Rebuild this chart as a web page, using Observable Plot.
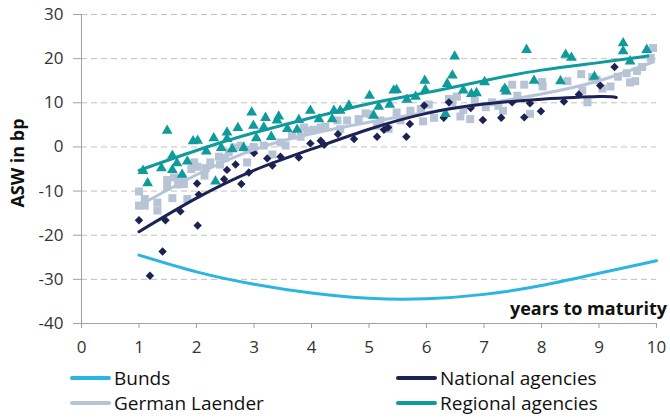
<!DOCTYPE html>
<html><head><meta charset="utf-8">
<script src="https://cdn.jsdelivr.net/npm/d3@7"></script>
<script src="https://cdn.jsdelivr.net/npm/@observablehq/plot@0.6"></script>
<style>
body{margin:0;background:#fff;font-family:"Open Sans",sans-serif;}
#wrap{position:relative;width:670px;height:419px;overflow:hidden;}
.leg{position:absolute;font-size:19px;color:#111;display:flex;align-items:center;white-space:nowrap;height:24px;}
.leg .sw{display:inline-block;width:41px;height:4px;margin-right:3px;border-radius:2px;}
</style></head><body><div id="wrap"></div>
<script>
const xTicks = [0,1,2,3,4,5,6,7,8,9,10];
const yTicks = [-40,-30,-20,-10,0,10,20,30];

const laenderX = [1.0,1.1,1.0,1.1,1.32,1.32,1.49,1.49,1.58,1.61,1.68,1.78,1.75,1.84,1.91,1.96,2.02,2.14,2.16,2.24,2.39,2.41,2.5,2.56,2.65,2.77,2.88,2.88,2.99,3.0,3.17,3.32,3.46,3.55,3.66,3.81,3.87,3.93,4.03,4.16,4.24,4.45,4.5,4.62,4.82,4.94,5.03,5.14,5.2,5.34,5.48,5.55,5.72,5.9,5.94,6.04,6.13,6.39,6.45,6.53,6.59,6.64,6.76,6.84,7.03,7.14,7.25,7.33,7.36,7.49,7.58,7.7,7.8,8.01,8.02,8.45,8.69,8.71,8.8,8.88,8.96,9.06,9.2,9.33,9.48,9.54,9.63,9.66,9.75,9.9,9.94];
const laenderY = [-10.1,-11.8,-13.3,-13.3,-12.6,-14.4,-7.5,-9.0,-11.6,-6.9,-8.5,-8.4,-7.0,-11.8,-5.0,-3.5,-4.5,-6.5,-4.8,-3.5,-2.2,-4.0,-2.5,-1.2,-0.1,0.3,-3.5,-0.6,0.0,-0.2,0.3,-1.7,1.0,0.3,2.6,2.3,4.4,3.6,3.9,4.4,4.6,6.0,4.0,6.0,6.3,7.6,7.4,4.8,6.0,4.1,7.8,6.0,8.2,8.6,5.8,9.6,6.6,10.9,10.1,11.4,6.9,8.4,6.3,10.5,9.0,10.1,9.3,8.2,12.8,14.1,11.6,14.1,7.5,14.7,13.7,14.9,16.5,12.8,10.1,15.8,15.2,13.2,13.7,15.9,16.7,14.6,14.9,17.2,18.1,20.2,22.4];

const nationalX = [1.0,1.19,1.41,1.46,1.72,2.01,2.02,2.04,2.48,2.53,2.68,2.78,2.91,3.0,3.23,3.32,3.46,3.78,3.98,4.16,4.22,4.46,4.74,5.14,5.26,5.33,5.65,5.71,5.96,6.3,6.39,6.77,6.98,7.3,7.49,7.7,7.8,7.99,8.39,8.65,9.02,9.27];
const nationalY = [-16.6,-29.2,-23.7,-16.6,-14.6,-8.3,-17.8,-10.8,-7.3,-5.2,-4.0,-8.4,-5.8,-1.4,-2.6,-4.2,-2.2,-2.4,0.8,1.4,0.5,2.9,1.8,2.3,3.9,4.4,2.3,5.2,9.4,6.6,10.1,8.8,6.1,6.6,10.1,6.7,9.9,8.1,10.3,11.9,13.9,18.1];

const regionalX = [1.07,1.15,1.49,1.39,1.58,1.58,1.66,1.75,1.84,1.94,2.02,2.17,2.3,2.33,2.43,2.53,2.53,2.62,2.72,2.82,2.96,2.99,3.04,3.2,3.17,3.3,3.43,3.4,3.58,3.75,3.78,3.98,4.13,4.36,4.39,4.5,4.65,5.01,5.17,5.08,5.36,5.43,5.48,5.66,5.81,5.97,5.98,6.33,6.36,6.45,6.49,6.64,6.78,6.87,7.01,7.36,7.39,7.74,7.87,8.33,8.42,8.52,8.92,9.42,9.42,9.54,9.83];
const regionalY = [-5.4,-8.2,3.7,-4.8,-2.0,-5.2,-3.7,-6.3,-3.3,1.3,1.4,-1.0,2.0,-7.8,-0.2,3.3,1.8,-0.5,4.3,-0.2,7.8,4.8,2.0,6.6,4.4,2.3,6.9,6.0,4.1,3.9,6.1,8.2,6.3,6.3,8.2,8.2,9.4,11.6,9.1,7.1,9.6,12.8,12.9,10.7,11.4,15.0,12.9,7.5,14.3,16.2,20.5,12.8,12.0,12.2,14.7,13.2,12.6,22.0,15.0,14.9,20.9,20.2,15.9,23.5,21.7,19.4,22.0];

const bundsTrendX = [1,2,3,4,5,6,7,8,9,10];
const bundsTrendY = [-24.5,-28.3,-31.1,-33.1,-34.3,-34.4,-33.4,-31.4,-28.6,-25.8];
const nationalTrendX = [1,2,3,4,5,6,7,8,9,9.3];
const nationalTrendY = [-19.2,-11.6,-5.3,-0.5,4.0,7.6,9.7,10.8,11.4,11.2];
const laenderTrendX = [1,2,3,4,5,6,7,8,9,9.95];
const laenderTrendY = [-13.3,-6.3,-0.6,3.0,5.6,7.8,9.8,12.0,15.0,19.3];
const regionalTrendX = [1,2,3,4,5,6,7,8,9,9.85];
const regionalTrendY = [-5.3,-0.8,3.2,6.6,9.8,12.3,15.0,17.4,19.1,20.6];

const seriesNames = ["Bunds","National agencies","German Laender","Regional agencies"];
const seriesColors = ["#2bb5e0","#1c2354","#b7c4d6","#0f9a9c"];

const pts = (xs, ys) => xs.map((x,i)=>({x, y: ys[i]}));

const chart = Plot.plot({
  width: 670, height: 360,
  marginLeft: 81, marginRight: 14, marginTop: 14, marginBottom: 37,
  x: {domain: [0,10]},
  y: {domain: [-40,30]},
  style: {fontFamily: "Open Sans, sans-serif", fontSize: "17px", color: "#333", background: "white"},
  marks: [
    Plot.gridY(yTicks.filter(d => d > -40), {stroke: "#c0c0c0", strokeOpacity: 1, strokeDasharray: "6,4"}),
    Plot.axisY(yTicks, {tickSize: 8, tickPadding: 10, stroke: "#a0a0a0", label: null, tickFormat: d => String(d)}),
    Plot.axisX(xTicks, {tickSize: 5, tickPadding: 12, stroke: "#a0a0a0", label: null, tickFormat: d => String(d)}),
    Plot.ruleX([0], {stroke: "#a0a0a0"}),
    Plot.ruleY([-40], {stroke: "#a0a0a0"}),
    Plot.dot(pts(laenderX, laenderY), {x: "x", y: "y", symbol: "square", r: 4.5, fill: seriesColors[2]}),
    Plot.dot(pts(nationalX, nationalY), {x: "x", y: "y", symbol: "diamond2", r: 3.8, fill: seriesColors[1]}),
    Plot.dot(pts(regionalX, regionalY), {x: "x", y: "y", symbol: "triangle", r: 4.0, fill: seriesColors[3]}),
    Plot.line(pts(bundsTrendX, bundsTrendY), {x: "x", y: "y", curve: "natural", stroke: seriesColors[0], strokeWidth: 3}),
    Plot.line(pts(laenderTrendX, laenderTrendY), {x: "x", y: "y", curve: "natural", stroke: seriesColors[2], strokeWidth: 3}),
    Plot.line(pts(nationalTrendX, nationalTrendY), {x: "x", y: "y", curve: "natural", stroke: seriesColors[1], strokeWidth: 3}),
    Plot.line(pts(regionalTrendX, regionalTrendY), {x: "x", y: "y", curve: "natural", stroke: seriesColors[3], strokeWidth: 3})
  ]
});

const wrap = document.getElementById("wrap");
wrap.appendChild(chart);
const svg = d3.select(chart);
svg.append("text")
  .attr("transform", "translate(24,163) rotate(-90)")
  .attr("text-anchor", "middle")
  .style("font-weight", "bold").style("font-size", "18px").attr("fill", "#111")
  .text("ASW in bp");
svg.append("text")
  .attr("x", 667).attr("y", 315)
  .attr("text-anchor", "end")
  .style("font-weight", "bold").style("font-size", "18px").attr("fill", "#111")
  .text("years to maturity");

const legPos = [[70,366],[396,366],[70,391],[396,391]];
seriesNames.forEach((name, i) => {
  const d = document.createElement("div");
  d.className = "leg";
  d.style.left = legPos[i][0] + "px";
  d.style.top = legPos[i][1] + "px";
  d.innerHTML = `<span class="sw" style="background:${seriesColors[i]}"></span>${name}`;
  wrap.appendChild(d);
});
</script></body></html>
